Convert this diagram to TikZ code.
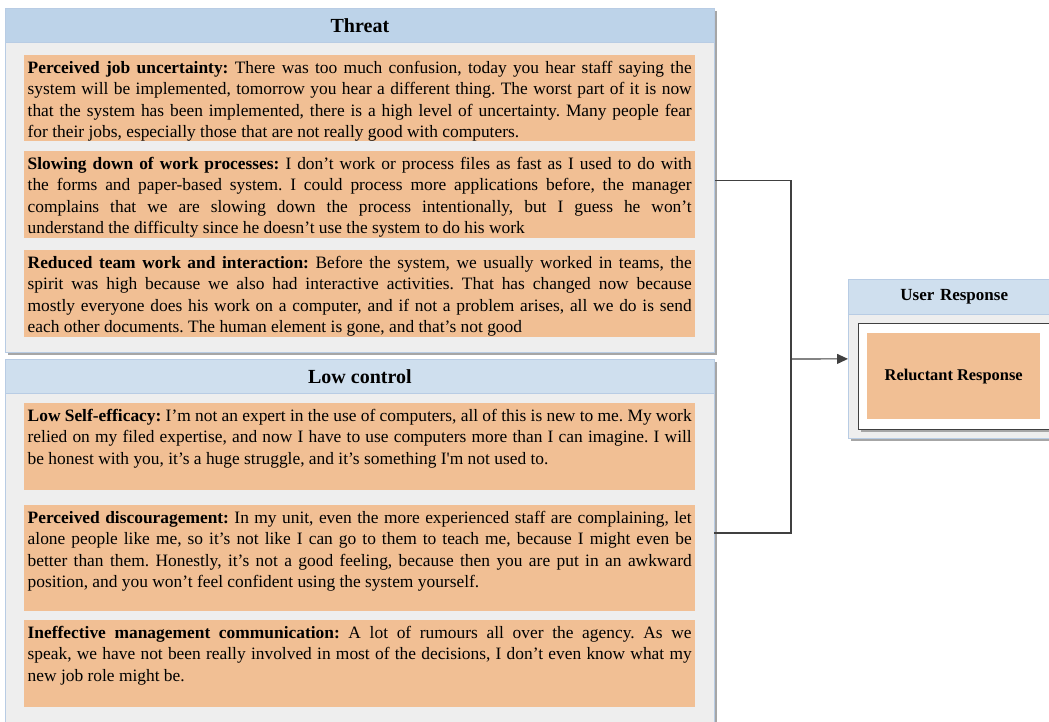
\documentclass[tikz,border=0pt]{standalone}
\usepackage{fontspec}
\setmainfont[Ligatures=TeXOff]{Liberation Serif}
\usetikzlibrary{arrows.meta,shadows}

\definecolor{panelfill}{HTML}{EEEEEE}
\definecolor{panelline}{HTML}{B8CCE4}
\definecolor{headA}{HTML}{BDD3E9}
\definecolor{headB}{HTML}{CFDFEE}
\definecolor{quotefill}{HTML}{F1BF94}
\definecolor{connline}{HTML}{404040}
\definecolor{shadowgray}{HTML}{A6A6A6}

% one justified line and one ragged last line of a quotation
\newcommand\qline[1]{\hbox to 664pt{\strut#1}}
\newcommand\qlast[1]{\hbox{\strut#1}}
\newcommand\qtext[2]{\parbox[t][#1][t]{664pt}{\frenchspacing\fontsize{17.4}{21.5}\selectfont#2}}

\tikzset{
  panel/.style={rectangle, draw=panelline, line width=0.8pt, fill=panelfill,
    anchor=north west, inner sep=0pt,
    drop shadow={shadow xshift=3pt, shadow yshift=-3pt, fill=shadowgray, opacity=1}},
  headbox/.style={rectangle, draw=panelline, line width=0.8pt, anchor=north west,
    inner sep=0pt, font=\fontsize{20}{24}\selectfont\bfseries},
  quotebox/.style={rectangle, fill=quotefill, anchor=north west,
    inner xsep=3.5pt, inner ysep=3pt},
  conn/.style={draw=connline, line width=1.1pt},
}

\begin{document}
\begin{tikzpicture}[x=1pt,y=-1pt]
\useasboundingbox (0,0) rectangle (1049,722);

% ---- Threat panel ----
\node[panel, minimum width=709pt, minimum height=344pt] (threat) at (5,8) {};
\node[headbox, fill=headA, minimum width=709pt, minimum height=34pt] (threathead) at (5,8) {Threat};

\node[quotebox] (q1) at (24,55) {\qtext{80pt}{%
\qline{\textbf{Perceived job uncertainty:} There was too much confusion, today you hear staff saying the}
\qline{system will be implemented, tomorrow you hear a different thing. The worst part of it is now}
\qline{that the system has been implemented, there is a high level of uncertainty. Many people fear}
\qlast{for their jobs, especially those that are not really good with computers.}}};

\node[quotebox] (q2) at (24,151) {\qtext{81pt}{%
\qline{\textbf{Slowing down of work processes:} I don’t work or process files as fast as I used to do with}
\qline{the forms and paper-based system. I could process more applications before, the manager}
\qline{complains that we are slowing down the process intentionally, but I guess he won’t}
\qlast{understand the difficulty since he doesn’t use the system to do his work}}};

\node[quotebox] (q3) at (24,250) {\qtext{81pt}{%
\qline{\textbf{Reduced team work and interaction:} Before the system, we usually worked in teams, the}
\qline{spirit was high because we also had interactive activities. That has changed now because}
\qline{mostly everyone does his work on a computer, and if not a problem arises, all we do is send}
\qlast{each other documents. The human element is gone, and that’s not good}}};

% ---- Low control panel ----
\node[panel, minimum width=709pt, minimum height=380pt] (lowc) at (5,359) {};
\node[headbox, fill=headB, minimum width=709pt, minimum height=34pt] (lowchead) at (5,359) {Low control};

\node[quotebox] (q4) at (24,403) {\qtext{81pt}{%
\qline{\textbf{Low Self-efficacy:} I’m not an expert in the use of computers, all of this is new to me. My work}
\qline{relied on my filed expertise, and now I have to use computers more than I can imagine. I will}
\qlast{be honest with you, it’s a huge struggle, and it’s something I'm not used to.}}};

\node[quotebox] (q5) at (24,505) {\qtext{100pt}{%
\qline{\textbf{Perceived discouragement:} In my unit, even the more experienced staff are complaining, let}
\qline{alone people like me, so it’s not like I can go to them to teach me, because I might even be}
\qline{better than them. Honestly, it’s not a good feeling, because then you are put in an awkward}
\qlast{position, and you won’t feel confident using the system yourself.}}};

\node[quotebox] (q6) at (24,620) {\qtext{81pt}{%
\qline{\textbf{Ineffective management communication:} A lot of rumours all over the agency. As we}
\qline{speak, we have not been really involved in most of the decisions, I don’t even know what my}
\qlast{new job role might be.}}};

% ---- User Response panel ----
\node[panel, minimum width=210pt, minimum height=159pt] (resp) at (848,279) {};
\node[headbox, fill=headB, minimum width=210pt, minimum height=35pt,
  font=\fontsize{17}{20}\selectfont\bfseries, text width=200pt, align=left] (resphead) at (848,279)
  {\hspace*{47pt}User Response};
\node[rectangle, draw=connline, line width=1.2pt, fill=white, anchor=north west,
  minimum width=196pt, minimum height=106pt, inner sep=0pt,
  drop shadow={shadow xshift=2pt, shadow yshift=-2pt, fill=shadowgray, opacity=1}] (respframe) at (858,323) {};
\node[rectangle, fill=quotefill, anchor=north west, minimum width=173pt, minimum height=86pt,
  inner sep=0pt, font=\fontsize{16.4}{20}\selectfont\bfseries] (reluct) at (867,333) {Reluctant Response};

% ---- connectors ----
\coordinate (join) at (791,359);
\coordinate (lowport) at (714,533);
\draw[conn] (threat.east) -| (join);
\draw[conn] (lowport) -| (join);
\draw[conn, -{Stealth[length=11pt,width=10pt,inset=0pt]}] (join) -- (resp.west);
\end{tikzpicture}
\end{document}
